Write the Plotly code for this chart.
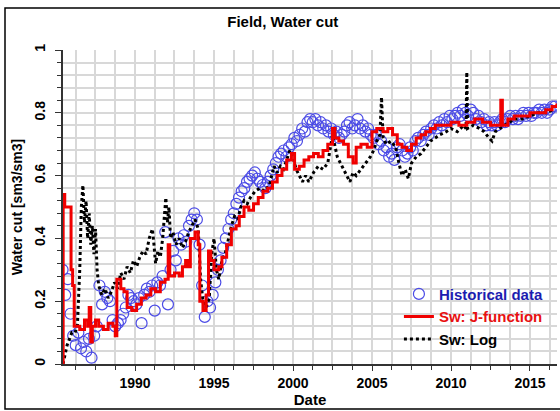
import datetime as dt
import pandas as pd
import plotly.graph_objects as go

# ---------------- data ----------------
HIST_START = "1985-06-01"   # bi-monthly observations
HIST_VALUES = [
    0.30, 0.22, 0.27, 0.16, 0.09, 0.06,
    0.10, 0.05, 0.07, 0.04, 0.08, 0.02,
    0.09, 0.12, 0.25, 0.19, 0.23, 0.21,
    0.20, 0.14, 0.12, 0.13, 0.14, 0.16,
    0.18, 0.22, 0.21, 0.20, 0.19, 0.21,
    0.13, 0.22, 0.24, 0.23, 0.25, 0.17,
    0.26, 0.25, 0.28, 0.42, 0.19, 0.30,
    0.36, 0.33, 0.40, 0.38, 0.41, 0.39,
    0.44, 0.46, 0.48, 0.46, 0.38, 0.25,
    0.15, 0.20, 0.18, 0.22, 0.26, 0.30,
    0.33, 0.37, 0.40, 0.43, 0.46, 0.48,
    0.51, 0.53, 0.55, 0.56, 0.58, 0.59,
    0.60, 0.61, 0.59, 0.58, 0.57, 0.56,
    0.58, 0.60, 0.62, 0.64, 0.66, 0.67,
    0.68, 0.66, 0.69, 0.70, 0.72, 0.71,
    0.73, 0.75, 0.74, 0.77, 0.78, 0.77,
    0.78, 0.76, 0.77, 0.75, 0.76, 0.74,
    0.75, 0.73, 0.74, 0.72, 0.73, 0.74,
    0.76, 0.77, 0.75, 0.76, 0.78, 0.75,
    0.76, 0.74, 0.75, 0.73, 0.72, 0.73,
    0.70, 0.71, 0.68, 0.69, 0.66, 0.67,
    0.65, 0.69, 0.70, 0.68, 0.66, 0.67,
    0.69, 0.68, 0.71, 0.72, 0.71, 0.73,
    0.74, 0.73, 0.75, 0.76, 0.75, 0.77,
    0.76, 0.78, 0.77, 0.79, 0.78, 0.79,
    0.80, 0.79, 0.81, 0.80, 0.79, 0.81,
    0.80, 0.78, 0.79, 0.77, 0.78, 0.76,
    0.77, 0.76, 0.77, 0.76, 0.77, 0.78,
    0.77, 0.78, 0.79, 0.78, 0.79, 0.78,
    0.79, 0.80, 0.79, 0.80, 0.79, 0.80,
    0.80, 0.81, 0.80, 0.81, 0.80, 0.81,
    0.82, 0.82,
]

JF_YEARS = [
    1985.44, 1985.45, 1985.55, 1985.95, 1986.05, 1986.15, 1986.5, 1986.8, 1987.0,
    1987.1, 1987.2, 1987.3, 1987.5, 1987.7, 1988.0, 1988.3, 1988.6, 1988.75,
    1988.85, 1989.1, 1989.3, 1989.5, 1989.8, 1990.1, 1990.4, 1990.7, 1991.0,
    1991.3, 1991.6, 1991.9, 1992.1, 1992.2, 1992.5, 1992.8, 1993.0, 1993.2,
    1993.35, 1993.5, 1993.8, 1994.0, 1994.1, 1994.3, 1994.5, 1994.65, 1994.8,
    1995.0, 1995.3, 1995.5, 1995.8, 1996.1, 1996.4, 1996.6, 1996.9, 1997.2,
    1997.5, 1997.8, 1998.1, 1998.4, 1998.7, 1999.0, 1999.3, 1999.6, 1999.9,
    2000.1, 2000.4, 2000.7, 2001.0, 2001.3, 2001.6, 2001.9, 2002.2, 2002.5,
    2002.65, 2002.9, 2003.2, 2003.5, 2003.8, 2004.0, 2004.3, 2004.7, 2005.0,
    2005.3, 2005.7, 2006.0, 2006.3, 2006.6, 2006.9, 2007.2, 2007.5, 2007.8,
    2008.1, 2008.4, 2008.7, 2009.0, 2009.5, 2010.0, 2010.5, 2011.0, 2011.5,
    2012.0, 2012.5, 2013.0, 2013.15, 2013.25, 2013.6, 2014.0, 2014.5, 2015.0,
    2015.5, 2016.0, 2016.4, 2016.7,
]
JF_VALUES = [
    0.00, 0.54, 0.50, 0.30, 0.25, 0.12, 0.11, 0.14, 0.12,
    0.18, 0.07, 0.12, 0.14, 0.12, 0.11, 0.13, 0.12, 0.09,
    0.27, 0.24, 0.23, 0.18, 0.17, 0.19, 0.21, 0.22, 0.24,
    0.23, 0.26, 0.27, 0.38, 0.28, 0.29, 0.28, 0.31, 0.33,
    0.31, 0.40, 0.42, 0.38, 0.20, 0.17, 0.22, 0.36, 0.33,
    0.30, 0.31, 0.34, 0.38, 0.43, 0.44, 0.47, 0.50, 0.49,
    0.51, 0.53, 0.55, 0.56, 0.58, 0.60, 0.62, 0.65, 0.67,
    0.62, 0.63, 0.65, 0.66, 0.67, 0.66, 0.68, 0.70, 0.75,
    0.72, 0.71, 0.70, 0.66, 0.64, 0.69, 0.70, 0.69, 0.74,
    0.75, 0.74, 0.75, 0.73, 0.70, 0.69, 0.68, 0.70, 0.72,
    0.73, 0.74, 0.75, 0.76, 0.76, 0.77, 0.76, 0.77, 0.78,
    0.77, 0.76, 0.76, 0.84, 0.76, 0.78, 0.79, 0.79, 0.80,
    0.80, 0.81, 0.82, 0.83,
]

LOG_YEARS = [
    1985.44, 1985.55, 1985.7, 1985.85, 1986.0, 1986.2, 1986.35, 1986.5, 1986.6,
    1986.7, 1986.8, 1986.9, 1987.0, 1987.1, 1987.2, 1987.3, 1987.4, 1987.5,
    1987.6, 1987.7, 1987.9, 1988.1, 1988.3, 1988.5, 1988.7, 1988.9, 1989.1,
    1989.3, 1989.5, 1989.7, 1989.9, 1990.1, 1990.3, 1990.5, 1990.7, 1990.9,
    1991.1, 1991.2, 1991.3, 1991.45, 1991.6, 1991.75, 1991.85, 1991.95, 1992.05,
    1992.15, 1992.25, 1992.4, 1992.6, 1992.8, 1993.0, 1993.2, 1993.4, 1993.6,
    1993.8, 1994.0, 1994.15, 1994.3, 1994.5, 1994.7, 1994.85, 1995.0, 1995.15,
    1995.3, 1995.5, 1995.7, 1995.9, 1996.1, 1996.3, 1996.5, 1996.7, 1996.9,
    1997.1, 1997.3, 1997.6, 1997.9, 1998.2, 1998.5, 1998.8, 1999.0, 1999.2,
    1999.4, 1999.6, 1999.8, 2000.0, 2000.2, 2000.4, 2000.6, 2000.8, 2001.0,
    2001.3, 2001.6, 2001.9, 2002.2, 2002.5, 2002.65, 2002.8, 2003.0, 2003.2,
    2003.4, 2003.6, 2003.8, 2004.0, 2004.3, 2004.6, 2004.9, 2005.1, 2005.3,
    2005.5, 2005.6, 2005.7, 2005.9, 2006.2, 2006.5, 2006.7, 2006.9, 2007.1,
    2007.3, 2007.5, 2007.8, 2008.1, 2008.4, 2008.7, 2009.0, 2009.3, 2009.7,
    2010.0, 2010.4, 2010.8, 2010.95, 2011.0, 2011.05, 2011.4, 2011.8, 2012.1,
    2012.4, 2012.6, 2012.8, 2013.1, 2013.4, 2013.7, 2014.0, 2014.5, 2015.0,
    2015.5, 2016.0, 2016.5,
]
LOG_VALUES = [
    0.00, 0.03, 0.06, 0.08, 0.10, 0.10, 0.12, 0.30, 0.50,
    0.57, 0.45, 0.52, 0.40, 0.48, 0.38, 0.44, 0.35, 0.43,
    0.30, 0.25, 0.22, 0.24, 0.21, 0.23, 0.26, 0.24, 0.29,
    0.27, 0.31, 0.29, 0.33, 0.31, 0.34, 0.36, 0.35, 0.40,
    0.43, 0.38, 0.32, 0.36, 0.34, 0.40, 0.48, 0.53, 0.45,
    0.50, 0.40, 0.42, 0.38, 0.40, 0.37, 0.39, 0.42, 0.44,
    0.46, 0.43, 0.27, 0.20, 0.18, 0.21, 0.35, 0.40, 0.30,
    0.27, 0.33, 0.35, 0.40, 0.44, 0.47, 0.46, 0.50, 0.52,
    0.51, 0.53, 0.55, 0.56, 0.55, 0.57, 0.63, 0.61, 0.63,
    0.62, 0.65, 0.68, 0.66, 0.62, 0.60, 0.58, 0.60, 0.58,
    0.61, 0.63, 0.62, 0.64, 0.73, 0.69, 0.66, 0.64, 0.62,
    0.60, 0.58, 0.61, 0.60, 0.62, 0.64, 0.66, 0.68, 0.71,
    0.73, 0.85, 0.72, 0.70, 0.71, 0.69, 0.64, 0.60, 0.62,
    0.59, 0.64, 0.66, 0.67, 0.69, 0.71, 0.72, 0.73, 0.74,
    0.75, 0.74, 0.76, 0.75, 0.93, 0.75, 0.76, 0.75, 0.74,
    0.72, 0.71, 0.74, 0.75, 0.76, 0.77, 0.78, 0.78, 0.79,
    0.80, 0.80, 0.81,
]

TICK_YEARS = ["1990", "1995", "2000", "2005", "2010", "2015"]


def to_date(y):
    year = int(y)
    return dt.datetime(year, 1, 1) + dt.timedelta(days=(y - year) * 365.25)


hist_dates = pd.date_range(HIST_START, periods=len(HIST_VALUES), freq="2MS")
jf_dates = [to_date(y) for y in JF_YEARS]
log_dates = [to_date(y) for y in LOG_YEARS]

FONT = "Liberation Sans, Arial, sans-serif"

fig = go.Figure()
fig.add_trace(go.Scatter(
    x=hist_dates, y=HIST_VALUES, mode="markers",
    name="<span style='color:#1c1cb0'><b>Historical data</b></span>",
    marker=dict(symbol="circle-open", size=11, color="#4b4be6", line=dict(width=1.2)),
    legendrank=1,
))
fig.add_trace(go.Scatter(
    x=log_dates, y=LOG_VALUES, mode="lines",
    name="<b>Sw: Log</b>",
    line=dict(color="black", width=3, dash="dot"),
    legendrank=3,
))
fig.add_trace(go.Scatter(
    x=jf_dates, y=JF_VALUES, mode="lines",
    name="<span style='color:#e81010'><b>Sw: J-function</b></span>",
    line=dict(color="#f00000", width=3, shape="hv"),
    legendrank=2,
))

grid = "#d8d8d8"
fig.update_layout(
    width=560, height=411,
    margin=dict(l=63, r=3, t=50, b=47),
    paper_bgcolor="white", plot_bgcolor="white",
    font=dict(family=FONT, size=14, color="black"),
    title=dict(text="<b>Field, Water cut</b>", x=0.505, xref="container",
               y=1 - 22 / 411, yref="container", yanchor="middle",
               font=dict(size=15)),
    showlegend=True,
    legend=dict(x=0.68, y=0.275, xanchor="left", yanchor="top",
                bgcolor="rgba(255,255,255,0)", font=dict(size=15),
                itemwidth=30, tracegroupgap=0),
    xaxis=dict(
        type="date",
        range=[to_date(1985.44), to_date(2016.71)],
        tickvals=[dt.datetime(int(t), 1, 1) for t in TICK_YEARS],
        ticktext=[f"<b>{t}</b>" for t in TICK_YEARS],
        ticks="outside", ticklen=5, tickcolor="#333",
        showline=True, linecolor="#333", linewidth=1.5,
        showgrid=True, gridcolor=grid, gridwidth=1.5,
        minor=dict(dtick="M15", tick0="1990-01-01", ticks="outside", ticklen=4,
                   tickcolor="#333", showgrid=True, gridcolor=grid, gridwidth=1.5),
        title=dict(text="<b>Date</b>", standoff=3, font=dict(size=15)),
        tickfont=dict(size=14),
        zeroline=False,
    ),
    yaxis=dict(
        range=[0, 1],
        tickvals=[0, 0.2, 0.4, 0.6, 0.8, 1],
        ticktext=["<b>0</b>", "<b>0.2</b>", "<b>0.4</b>", "<b>0.6</b>", "<b>0.8</b>", "<b>1</b>"],
        tickangle=-90,
        ticks="outside", ticklen=6, tickcolor="#333",
        ticklabelstandoff=5,
        showline=True, linecolor="#333", linewidth=1.5,
        showgrid=True, gridcolor=grid, gridwidth=1.5,
        minor=dict(dtick=0.04, tick0=0, ticks="outside", ticklen=4, tickcolor="#333",
                   showgrid=True, gridcolor=grid, gridwidth=1.5),
        title=dict(text="<b>Water cut [sm3/sm3]</b>", standoff=6, font=dict(size=14)),
        tickfont=dict(size=14),
        zeroline=False,
    ),
    shapes=[dict(type="rect", xref="paper", yref="paper",
                 x0=(5 - 63) / 494, x1=(570 - 63) / 494,
                 y0=(364 - 409) / 314, y1=(364 - 8) / 314,
                 line=dict(color="black", width=1.5), fillcolor="rgba(0,0,0,0)",
                 layer="below")],
)

fig.write_html("out.html")
